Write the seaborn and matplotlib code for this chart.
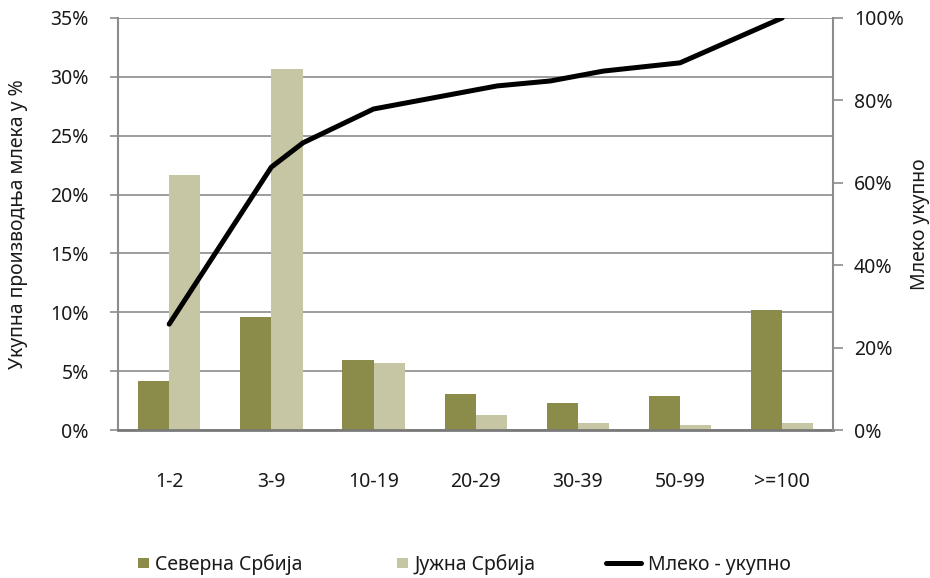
import numpy as np
import pandas as pd
import matplotlib
matplotlib.use("Agg")
import matplotlib.pyplot as plt
import matplotlib.patches as mpatches
from matplotlib.lines import Line2D
from matplotlib.legend_handler import HandlerPatch
from matplotlib.ticker import PercentFormatter
import seaborn as sns

# Data
categories = ['1-2', '3-9', '10-19', '20-29', '30-39', '50-99', '>=100']
sever = [4.2, 9.6, 5.95, 3.1, 2.3, 2.9, 10.2]      # Северна Србија, %
jug = [21.7, 30.7, 5.7, 1.3, 0.6, 0.4, 0.6]        # Јужна Србија, %
# cumulative line (right axis) - x in category units, it bends between categories too
line_x = [0, 1, 1.31, 2, 3.21, 3.73, 4.25, 5, 6]
line_y = [25.7, 63.8, 69.7, 77.9, 83.5, 84.7, 87.1, 89.1, 100]

series_names = ['Северна Србија', 'Јужна Србија']
line_name = 'Млеко - укупно'
colors = ['#8b8c4a', '#c6c6a4']

df = pd.DataFrame({
    'group': categories * 2,
    'region': [series_names[0]] * len(categories) + [series_names[1]] * len(categories),
    'value': sever + jug,
})

sns.set_theme(style='white')
plt.rcParams['font.family'] = ['Noto Sans', 'DejaVu Sans']
text_col = '#1a1a1a'
grid_col = '#8c8c8c'
fs = 14

fig = plt.figure(figsize=(9.3, 5.78), dpi=100)
ax = fig.add_axes([0.127, 0.256, 0.769, 0.713])

sns.barplot(data=df, x='group', y='value', hue='region', order=categories,
            hue_order=series_names, palette=colors, width=0.61, gap=0,
            saturation=1, linewidth=0, ax=ax, legend=False)

ax.set_xlim(-0.5, len(categories) - 0.5)
ax.set_ylim(0, 35)
ax.set_yticks(np.arange(0, 36, 5))
ax.yaxis.set_major_formatter(PercentFormatter(decimals=0))
ax.yaxis.grid(True, color=grid_col, lw=1.2)
ax.set_axisbelow(True)
ax.set_xlabel('')
ax.set_ylabel('Укупна производња млека у %', fontsize=fs, color=text_col, labelpad=16)
ax.tick_params(axis='y', which='both', left=True, length=6, width=1.2, color=grid_col,
               labelsize=fs, labelcolor=text_col, pad=15)
ax.tick_params(axis='x', bottom=False, labelsize=fs, labelcolor=text_col, pad=24)
for s in ['top', 'right']:
    ax.spines[s].set_visible(False)
ax.spines['left'].set_color(grid_col)
ax.spines['left'].set_linewidth(1.5)
ax.spines['bottom'].set_color('#7a7a7a')
ax.spines['bottom'].set_linewidth(2)

ax2 = ax.twinx()
sns.lineplot(x=line_x, y=line_y, ax=ax2, color='black', lw=3.6, sort=False)
ax2.set_ylim(0, 100)
ax2.set_yticks(np.arange(0, 101, 20))
ax2.yaxis.set_major_formatter(PercentFormatter(decimals=0))
ax2.set_ylabel('Млеко укупно', fontsize=fs, color=text_col, labelpad=4)
ax2.tick_params(axis='y', right=True, length=7, width=1.2, color=grid_col,
                labelsize=fs, labelcolor=text_col, pad=8)
for s in ['top', 'left', 'bottom']:
    ax2.spines[s].set_visible(False)
ax2.spines['right'].set_color(grid_col)
ax2.spines['right'].set_linewidth(1.5)
ax2.set_xlim(-0.5, len(categories) - 0.5)


class SquareHandler(HandlerPatch):
    def create_artists(self, legend, orig_handle, xdescent, ydescent,
                       width, height, fontsize, trans):
        s = 0.55 * fontsize
        p = mpatches.Rectangle((width - xdescent - s, -ydescent + (height - s) / 2), s, s,
                               facecolor=orig_handle.get_facecolor(), edgecolor='none',
                               transform=trans)
        return [p]


handles = [mpatches.Patch(color=colors[0], label=series_names[0]),
           mpatches.Patch(color=colors[1], label=series_names[1]),
           Line2D([], [], color='black', lw=3.6, label=line_name)]
fig.legend(handles=handles, loc='lower center', bbox_to_anchor=(0.486, -0.025), ncol=3,
           frameon=False, fontsize=fs, handlelength=1.8, handletextpad=0.35,
           columnspacing=3.6, labelcolor=text_col,
           handler_map={mpatches.Patch: SquareHandler()})

fig.savefig('out.png', dpi=100)
